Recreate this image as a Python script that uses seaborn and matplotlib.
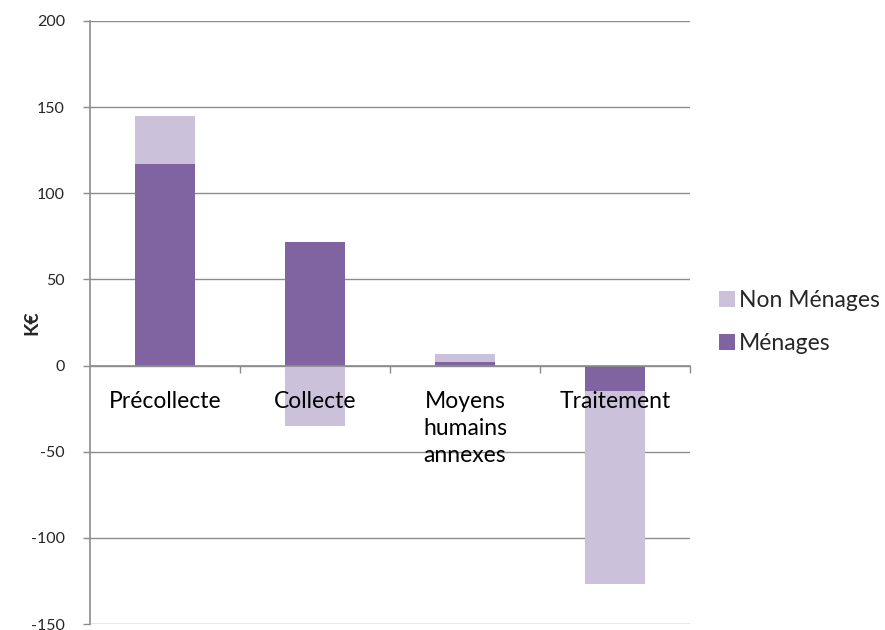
import matplotlib
matplotlib.use("Agg")
import matplotlib.pyplot as plt
import seaborn as sns
import pandas as pd
import numpy as np
from matplotlib.patches import Patch
from matplotlib.ticker import FixedLocator

categories = ["Précollecte", "Collecte", "Moyens\nhumains\nannexes", "Traitement"]
menages = [117, 72, 2, -15]
non_menages = [28, -35, 5, -112]
yticks = [-150, -100, -50, 0, 50, 100, 150, 200]

c_dark = "#8064A2"
c_light = "#CCC1DA"
grid_c = "#8C8C8C"

sns.set_theme(style="white")
plt.rcParams["font.family"] = ["Lato", "DejaVu Sans"]

fig = plt.figure(figsize=(8.85, 6.3), dpi=100)
ax = fig.add_axes([90/885, 1-624/630, 600/885, 603/630])

df = pd.DataFrame({"cat": categories, "m": menages, "nm": non_menages})
# Excel-style stacking: positives on positives, negatives on negatives
m = np.array(menages, dtype=float)
nm = np.array(non_menages, dtype=float)
nm_bottom = np.where(np.sign(nm) == np.sign(m), m, 0.0)
df["nm_bottom"] = nm_bottom

sns.barplot(data=df, x="cat", y="m", color=c_dark, saturation=1, width=0.4,
            ax=ax, zorder=2, linewidth=0)
sns.barplot(data=df, x="cat", y="nm", color=c_light, saturation=1, width=0.4,
            ax=ax, zorder=2, linewidth=0, bottom=df["nm_bottom"].values)

ax.set_xlim(-0.5, len(categories) - 0.5)
ax.set_ylim(-150, 200)
ax.set_yticks(yticks)
ax.set_yticklabels([str(v) for v in yticks], fontsize=11.5, color="#262626")
ax.yaxis.grid(True, color=grid_c, linewidth=1.0)
ax.set_axisbelow(True)
ax.yaxis.set_zorder(1)
ax.xaxis.set_zorder(5)

for s in ["top", "right"]:
    ax.spines[s].set_visible(False)
ax.spines["left"].set_color(grid_c)
ax.spines["left"].set_linewidth(1.2)
ax.spines["bottom"].set_position(("data", 0))
ax.spines["bottom"].set_color(grid_c)
ax.spines["bottom"].set_linewidth(1.2)
ax.spines["bottom"].set_zorder(4)

ax.tick_params(axis="y", direction="out", length=5, color=grid_c, width=1, left=True, pad=13)
ax.tick_params(axis="x", which="major", length=0, pad=18, labelsize=16.5, labelcolor="black")
ax.xaxis.set_minor_locator(FixedLocator([0.5, 1.5, 2.5, 3.5]))
ax.tick_params(axis="x", which="minor", direction="out", length=5, color=grid_c, width=1, bottom=True)
for lbl in ax.get_xticklabels():
    lbl.set_linespacing(1.38)
    lbl.set_verticalalignment("top")
    lbl.set_zorder(6)

ax.set_xlabel("")
ax.set_ylabel("K€", fontsize=14, fontweight="bold")
ax.yaxis.set_label_coords(-0.083, 0.5)

handles = [Patch(facecolor=c_light, edgecolor="none", label="Non Ménages"),
           Patch(facecolor=c_dark, edgecolor="none", label="Ménages")]
fig.legend(handles=handles, loc="center left", bbox_to_anchor=(710/885, 1-322/630),
           frameon=False, fontsize=16.5, handlelength=0.7, handleheight=0.7,
           handletextpad=0.15, labelspacing=0.95, borderaxespad=0)

fig.savefig("out.png", dpi=100)
